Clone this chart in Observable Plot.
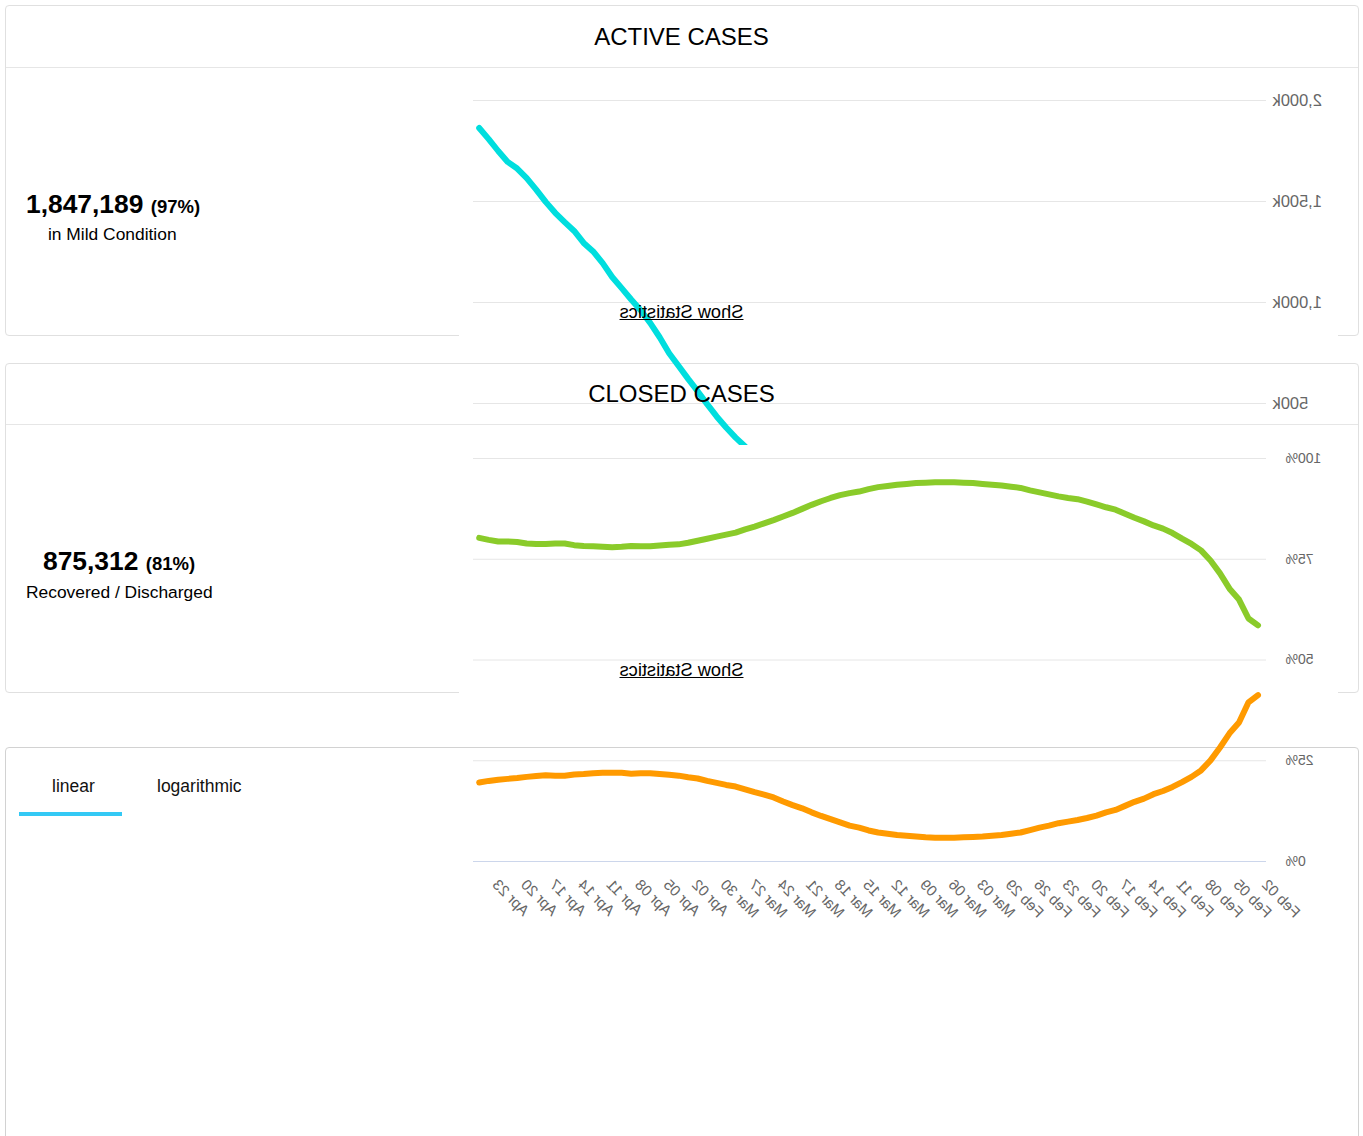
<!DOCTYPE html>
<html>
<head>
<meta charset="utf-8">
<script src="https://cdn.jsdelivr.net/npm/d3@7"></script>
<script src="https://cdn.jsdelivr.net/npm/@observablehq/plot@0.6"></script>
<style>
  html, body { margin: 0; padding: 0; background: #fff; }
  body { width: 1363px; height: 1136px; position: relative; overflow: hidden;
         font-family: "Liberation Sans", Arial, Helvetica, sans-serif; color: #000; }
  .panel { position: absolute; box-sizing: border-box; border: 1px solid #e0e0e0; border-radius: 4px; background: #fff; z-index: 1; }
  .divider { position: absolute; height: 1px; background: #e6e6e6; z-index: 1; }
  .cover { position: absolute; background: #fff; z-index: 2; }
  .chart { position: absolute; overflow: hidden; transform: scaleX(-1); z-index: 3; }
  .txt { position: absolute; white-space: nowrap; line-height: 1; z-index: 5; }
  .title { left: 0; width: 1363px; text-align: center; font-size: 24px; }
  .big { font-size: 26.4px; font-weight: bold; }
  .pct { font-size: 18.5px; font-weight: bold; }
  .sub { font-size: 17.4px; }
  .show { left: 0; width: 1363px; text-align: center; font-size: 18.3px; text-decoration: underline; transform: scaleX(-1); }
  .tab { font-size: 17.5px; color: #111; }
</style>
</head>
<body>
<!-- page panels -->
<div class="panel" style="left:5px;top:5px;width:1354px;height:331px;"></div>
<div class="divider" style="left:6px;top:67px;width:1352px;"></div>
<div class="panel" style="left:5px;top:363px;width:1354px;height:330px;"></div>
<div class="divider" style="left:6px;top:424px;width:1352px;"></div>
<div class="panel" style="left:5px;top:747px;width:1354px;height:500px;border-color:#d2d2d2;"></div>
<div class="cover" style="left:459px;top:332px;width:879px;height:6px;"></div>
<div class="cover" style="left:459px;top:689px;width:879px;height:6px;"></div>

<div class="txt title" style="top:24.5px;">ACTIVE CASES</div>
<div class="txt" style="left:26px;top:190.7px;"><span class="big">1,847,189 <span class="pct">(97%)</span></span></div>
<div class="txt sub" style="left:48px;top:225.6px;">in Mild Condition</div>
<div class="txt show" style="top:302.6px;">Show Statistics</div>

<div class="txt title" style="top:381.7px;">CLOSED CASES</div>
<div class="txt" style="left:43px;top:548.4px;"><span class="big">875,312 <span class="pct">(81%)</span></span></div>
<div class="txt sub" style="left:26px;top:583.9px;">Recovered / Discharged</div>
<div class="txt show" style="top:660.6px;">Show Statistics</div>

<div class="txt tab" style="left:52px;top:778.2px;">linear</div>
<div class="txt tab" style="left:157px;top:778.2px;">logarithmic</div>
<div style="position:absolute;left:19px;top:812px;width:103px;height:4px;background:#33c9f5;z-index:5;"></div>

<div id="chartTop" class="chart" style="left:459px;top:80px;width:880px;height:365px;"></div>
<div id="chartBottom" class="chart" style="left:459px;top:445px;width:880px;height:480px;"></div>

<script>
// ---------- data ----------
const startDate = "2020-02-02";
const endDate = "2020-04-24";

// x tick labels (every third day)
const tickLabels = ["Feb 02","Feb 05","Feb 08","Feb 11","Feb 14","Feb 17","Feb 20","Feb 23","Feb 26","Feb 29",
  "Mar 03","Mar 06","Mar 09","Mar 12","Mar 15","Mar 18","Mar 21","Mar 24","Mar 27","Mar 30",
  "Apr 02","Apr 05","Apr 08","Apr 11","Apr 14","Apr 17","Apr 20","Apr 23"];

// Active cases chart (thousands) – visible part, Mar 25 .. Apr 24
const activeStart = "2020-03-25";
const activeMild = [208,248,287,331,381,436,497,561,622,686,749,828,899,962,1015,1071,1126,1195,1253,1295,
  1354,1398,1444,1498,1559,1616,1663,1696,1750,1809,1864];
const activeTicks = [500, 1000, 1500, 2000];

// Closed cases chart (% of closed cases), Feb 02 .. Apr 24
const recoveredPct = [58.6,60.3,65.0,67.7,71.5,74.7,77.2,78.8,80.1,81.5,
  82.6,83.4,84.4,85.3,86.3,87.3,87.9,88.6,89.3,89.9,
  90.2,90.6,91.1,91.6,92.1,92.7,93.0,93.3,93.5,93.7,
  93.9,94.0,94.1,94.1,94.1,94.0,93.9,93.7,93.5,93.2,
  92.9,92.4,91.8,91.4,90.9,90.2,89.4,88.5,87.5,86.5,
  85.6,84.7,83.9,83.1,82.4,81.6,81.1,80.6,80.1,79.6,
  79.1,78.7,78.6,78.4,78.2,78.2,78.3,78.1,78.0,78.1,
  78.2,78.3,78.5,78.9,78.9,78.8,78.8,78.9,79.3,79.4,
  79.4,79.8,80.3];
const deathsPct = [41.3,39.5,34.5,31.8,28.3,25.1,22.6,21.0,19.7,18.5,
  17.5,16.7,15.6,14.8,13.8,12.8,12.2,11.4,10.8,10.3,
  9.9,9.5,8.9,8.4,7.8,7.2,6.9,6.6,6.4,6.2,
  6.1,6.0,5.9,5.9,5.9,6.0,6.2,6.4,6.6,6.9,
  7.2,7.7,8.4,8.9,9.7,10.5,11.3,12.2,13.2,14.0,
  14.9,15.9,16.6,17.2,17.9,18.6,19.0,19.5,20.0,20.6,
  20.9,21.3,21.5,21.7,21.9,21.9,21.8,22.0,22.0,22.0,
  21.9,21.7,21.6,21.3,21.3,21.4,21.2,21.0,20.7,20.5,
  20.3,20.0,19.6];
const pctTicks = [0, 25, 50, 75, 100];

// ---------- build tables ----------
const parseDay = d3.utcParse("%Y-%m-%d");
const parseLabel = d3.utcParse("%b %d %Y");
const fmtLabel = d3.utcFormat("%b %d");
const d0 = parseDay(startDate), d1 = parseDay(endDate);
const days = d3.utcDay.range(d0, d3.utcDay.offset(d1, 1));
const a0 = parseDay(activeStart);
const activeRows = activeMild.map((v, i) => ({date: d3.utcDay.offset(a0, i), v}));
const recRows = recoveredPct.map((v, i) => ({date: days[i], v}));
const deathRows = deathsPct.map((v, i) => ({date: days[i], v}));
const tickDates = tickLabels.map(s => parseLabel(s + " 2020"));

const W = 880;
const xRange = [80.5, 859.3];
const font = "'Liberation Sans', Arial, sans-serif";

const topChart = Plot.plot({
  width: W, height: 365,
  marginLeft: 73, marginRight: 14, marginTop: 0, marginBottom: 0,
  style: {background: "transparent", fontFamily: font, color: "#666666"},
  x: {type: "utc", domain: [d0, d1], range: xRange, axis: null},
  y: {domain: [0, 2000], range: [424, 20], axis: null},
  marks: [
    Plot.ruleY(activeTicks, {stroke: "#e6e6e6", strokeWidth: 1}),
    Plot.axisY({ticks: activeTicks, tickSize: 0, tickPadding: 7, fontSize: 16.5, label: null,
      tickFormat: d => d3.format(",")(d) + "k"}),
    Plot.line(activeRows, {x: "date", y: "v", stroke: "#00dede", strokeWidth: 6,
      strokeLinejoin: "round", strokeLinecap: "round"})
  ]
});
document.getElementById("chartTop").append(topChart);

const bottomChart = Plot.plot({
  width: W, height: 480,
  marginLeft: 73, marginRight: 14, marginTop: 0, marginBottom: 0,
  style: {background: "transparent", fontFamily: font, color: "#666666"},
  x: {type: "utc", domain: [d0, d1], range: xRange, axis: null},
  y: {domain: [0, 100], range: [416, 13], axis: null},
  marks: [
    Plot.ruleY(pctTicks.filter(t => t > 0), {stroke: "#e6e6e6", strokeWidth: 1}),
    Plot.ruleY([0], {stroke: "#ccd6eb", strokeWidth: 1}),
    Plot.axisY({ticks: pctTicks, tickSize: 0, tickPadding: 20, fontSize: 14, label: null,
      tickFormat: d => d + "%"}),
    Plot.text(tickDates, {x: d => d, y: () => 0, text: d => fmtLabel(d),
      rotate: -45, textAnchor: "end", lineAnchor: "bottom", dx: -3, dy: 24,
      fontSize: 15, fill: "#666666"}),
    Plot.line(recRows, {x: "date", y: "v", stroke: "#8acb2a", strokeWidth: 6,
      strokeLinejoin: "round", strokeLinecap: "round"}),
    Plot.line(deathRows, {x: "date", y: "v", stroke: "#ff9a00", strokeWidth: 6,
      strokeLinejoin: "round", strokeLinecap: "round"})
  ]
});
document.getElementById("chartBottom").append(bottomChart);
</script>
</body>
</html>
